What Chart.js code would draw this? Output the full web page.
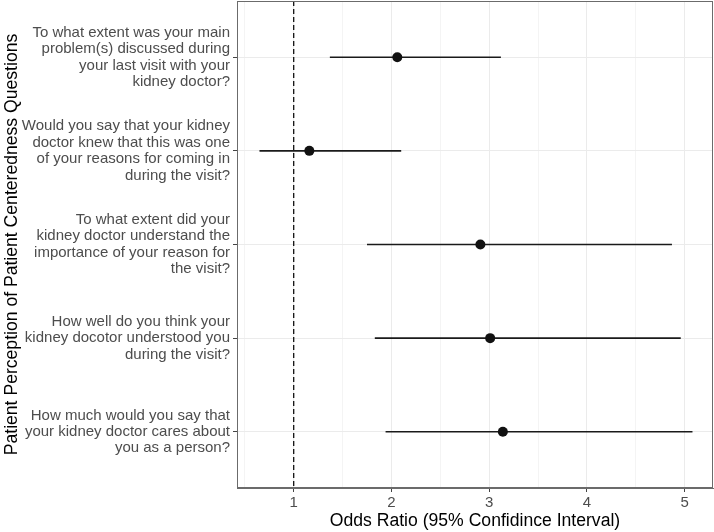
<!DOCTYPE html>
<html>
<head>
<meta charset="utf-8">
<script src="https://cdn.jsdelivr.net/npm/chart.js@4/dist/chart.umd.min.js"></script>
<style>
  html, body { margin: 0; padding: 0; background: #fff; }
  #wrap { width: 714px; height: 532px; position: relative; }
</style>
</head>
<body>
<div id="wrap"><canvas id="c"></canvas></div>
<script>
const questions = [
  ["To what extent was your main", "problem(s) discussed during", "your last visit with your", "kidney doctor?"],
  ["Would you say that your kidney", "doctor knew that this was one", "of your reasons for coming in", "during the visit?"],
  ["To what extent did your", "kidney doctor understand the", "importance of your reason for", "the visit?"],
  ["How well do you think your", "kidney docotor understood you", "during the visit?"],
  ["How much would you say that", "your kidney doctor cares about", "you as a person?"]
];
const oddsRatio = [2.06, 1.16, 2.91, 3.01, 3.14];
const ciLower   = [1.37, 0.65, 1.75, 1.83, 1.94];
const ciUpper   = [3.12, 2.10, 4.87, 4.96, 5.08];
const xMajorTicks = [1, 2, 3, 4, 5];
const xMinorTicks = [0.5, 1.5, 2.5, 3.5, 4.5];
const referenceOR = 1;
const xTitle = "Odds Ratio (95% Confidince Interval)";
const yTitle = "Patient Perception of Patient Centeredness Questions";

const FONT = "'Liberation Sans', Arial, sans-serif";
const yMin = -0.6, yMax = questions.length - 1 + 0.6;

const datasets = [];
datasets.push({
  label: "OR",
  data: oddsRatio.map((v, i) => ({x: v, y: i})),
  showLine: false,
  pointRadius: 5,
  pointHoverRadius: 5,
  backgroundColor: "#111",
  borderColor: "#111",
  borderWidth: 0,
  order: 0
});
ciLower.forEach((lo, i) => {
  datasets.push({
    label: "CI " + (i + 1),
    data: [{x: lo, y: i}, {x: ciUpper[i], y: i}],
    showLine: true,
    pointRadius: 0,
    borderColor: "#1a1a1a",
    borderWidth: 1.6,
    order: 1
  });
});
datasets.push({
  label: "ref",
  data: [{x: referenceOR, y: yMin}, {x: referenceOR, y: yMax}],
  showLine: true,
  pointRadius: 0,
  borderColor: "#111",
  borderWidth: 1.3,
  borderDash: [5, 3],
  order: 2
});

const borderPlugin = {
  id: "panelBorder",
  afterDraw(chart) {
    const a = chart.chartArea, ctx = chart.ctx;
    ctx.save();
    ctx.strokeStyle = "#6b6b6b";
    ctx.lineWidth = 1;
    ctx.strokeRect(Math.round(a.left) + 0.5, Math.round(a.top) + 0.5,
                   Math.round(a.right - a.left) - 1, Math.round(a.bottom - a.top) - 1);
    ctx.restore();
  }
};

function zeroPad(scale) {
  scale.paddingTop = 0; scale.paddingBottom = 0;
  scale.paddingLeft = 0; scale.paddingRight = 0;
}

new Chart(document.getElementById("c"), {
  type: "scatter",
  data: { datasets },
  plugins: [borderPlugin],
  options: {
    responsive: true,
    maintainAspectRatio: false,
    animation: false,
    layout: { autoPadding: false, padding: { top: 1, right: 1, left: 0, bottom: 0 } },
    plugins: { legend: { display: false }, tooltip: { enabled: false } },
    scales: {
      x: {
        type: "linear",
        min: 0.42,
        max: 5.29,
        afterBuildTicks(scale) {
          scale.ticks = [...xMinorTicks, ...xMajorTicks].sort((a, b) => a - b).map(v => ({value: v}));
        },
        afterFit(scale) { scale.height = 44; zeroPad(scale); },
        ticks: {
          autoSkip: false,
          maxRotation: 0,
          padding: 2,
          color: "#4d4d4d",
          font: { family: FONT, size: 15 },
          callback: (v) => xMajorTicks.includes(v) ? String(v) : ""
        },
        grid: {
          color: (ctx) => (ctx.tick && xMajorTicks.includes(ctx.tick.value)) ? "#ebebeb" : "#f4f4f4",
          lineWidth: 1,
          tickLength: 4,
          tickColor: (ctx) => (ctx.tick && xMajorTicks.includes(ctx.tick.value)) ? "#444" : "rgba(0,0,0,0)"
        },
        border: { display: true, color: "#6b6b6b" },
        title: {
          display: true,
          text: xTitle,
          color: "#000",
          font: { family: FONT, size: 17.6 },
          padding: { top: 0, bottom: 0 }
        }
      },
      y: {
        type: "linear",
        reverse: true,
        min: yMin,
        max: yMax,
        afterBuildTicks(scale) {
          scale.ticks = questions.map((q, i) => ({value: i}));
        },
        afterFit(scale) { scale.width = 237; zeroPad(scale); },
        ticks: {
          autoSkip: false,
          padding: 3,
          color: "#4d4d4d",
          font: { family: FONT, size: 15, lineHeight: 1.09 },
          callback: (v) => questions[v]
        },
        grid: {
          color: "#ebebeb",
          lineWidth: 1,
          tickLength: 4,
          tickColor: "#444"
        },
        border: { display: true, color: "#6b6b6b" },
        title: {
          display: true,
          text: yTitle,
          color: "#000",
          font: { family: FONT, size: 17.6 },
          padding: { top: 2, bottom: 0 }
        }
      }
    }
  }
});
</script>
</body>
</html>
